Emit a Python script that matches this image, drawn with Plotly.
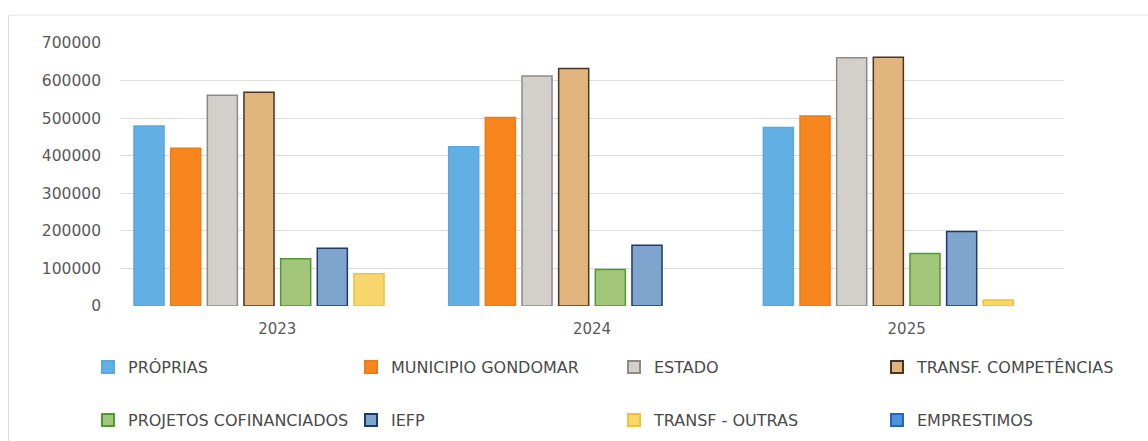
import plotly.graph_objects as go

years = ["2023", "2024", "2025"]
series_names = ["PRÓPRIAS", "MUNICIPIO GONDOMAR", "ESTADO", "TRANSF. COMPETÊNCIAS",
                "PROJETOS COFINANCIADOS", "IEFP", "TRANSF - OUTRAS", "EMPRESTIMOS"]
proprias = [479000, 424000, 475000]
municipio = [420000, 502000, 506000]
estado = [561000, 612000, 661000]
transf_comp = [569000, 632000, 662000]
projetos = [126000, 97000, 140000]
iefp = [154000, 162000, 198000]
transf_outras = [86000, 0, 16000]
emprestimos = [0, 0, 0]

values = [proprias, municipio, estado, transf_comp, projetos, iefp, transf_outras, emprestimos]
fills = ["#62AFE3", "#F7861E", "#D3CFCB", "#E2B47E", "#A2C67A", "#7FA5CF", "#F8D66E", "#4D94DA"]
lines = ["#5AA8DF", "#F07A14", "#8C8A88", "#4A3522", "#4F9A30", "#1E3A6A", "#EEC232", "#2466B8"]

fig = go.Figure()
for i, (name, vals) in enumerate(zip(series_names, values)):
    fig.add_trace(go.Bar(
        x=years, y=vals, name=name,
        marker=dict(color=fills[i],
                    line=dict(color=lines[i], width=[1.5 if v else 0 for v in vals])),
        legend="legend" if i < 4 else "legend2",
    ))

legend_common = dict(
    orientation="h", xanchor="left", yanchor="middle",
    entrywidth=218, entrywidthmode="pixels",
    font=dict(family="DejaVu Sans", size=16, color="#4a4a4a"),
    bgcolor="rgba(0,0,0,0)", itemsizing="constant",
    traceorder="normal",
)

fig.update_layout(
    width=1148, height=441,
    paper_bgcolor="white", plot_bgcolor="white",
    margin=dict(l=120, r=84, t=43, b=135, autoexpand=False),
    barmode="group", bargap=0.068, bargroupgap=0.18,
    font=dict(family="DejaVu Sans", color="#595959"),
    legend=dict(x=-0.0339, y=-0.2319, **legend_common),
    legend2=dict(x=-0.0339, y=-0.4335, **legend_common),
    xaxis=dict(showgrid=False, showline=False, ticks="",
               ticklabelstandoff=12,
               tickfont=dict(size=15, color="#595959")),
    yaxis=dict(range=[0, 700000], dtick=100000, tickformat="d",
               showgrid=True, gridcolor="#DCDCDC", gridwidth=1,
               zeroline=False, showline=False, ticks="",
               ticklabelstandoff=18,
               tickfont=dict(size=15.5, color="#595959")),
    shapes=[
        dict(type="line", xref="paper", yref="paper", x0=-0.118, x1=-0.118, y0=-0.6, y1=1.106,
             line=dict(color="#D8D8D8", width=1)),
        dict(type="line", xref="paper", yref="paper", x0=-0.118, x1=1.1, y0=1.106, y1=1.106,
             line=dict(color="#E4E4E4", width=1)),
    ],
)

fig.write_html("out.html", config={"displayModeBar": False},
               post_script="document.body.style.margin='0';document.body.style.overflow='hidden';")
